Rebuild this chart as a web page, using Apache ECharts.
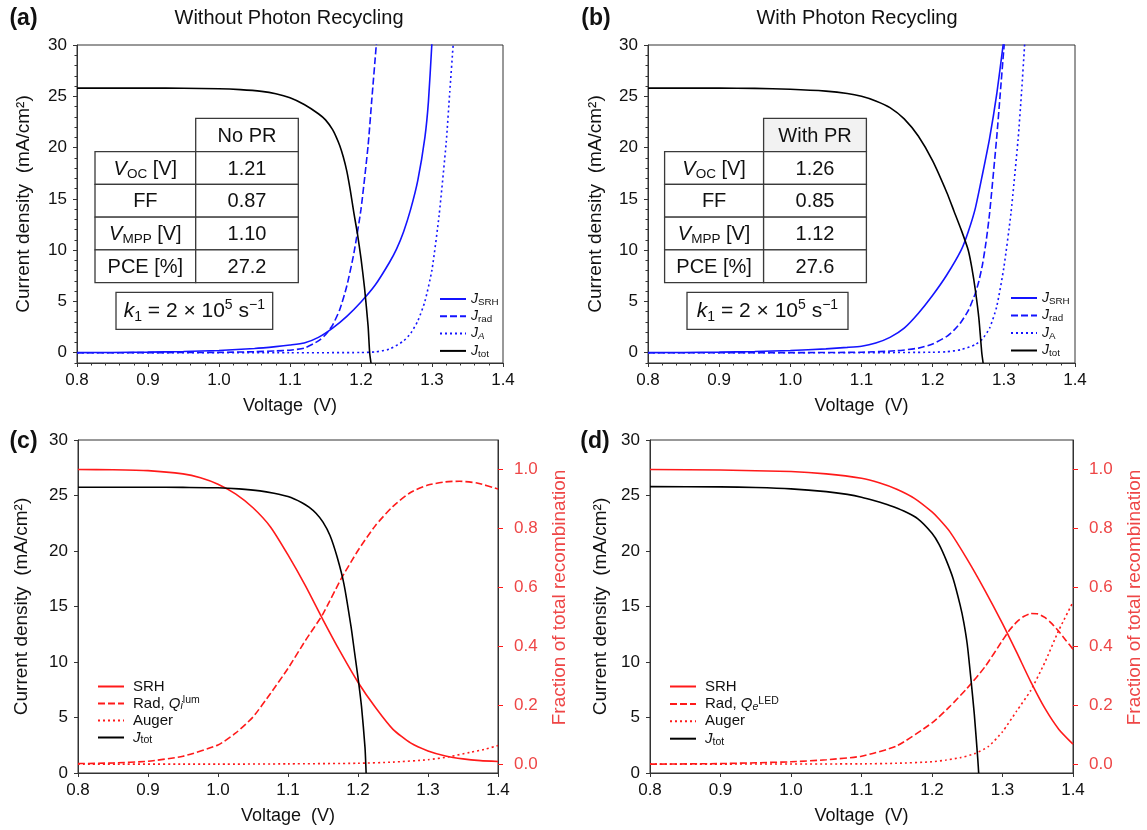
<!DOCTYPE html>
<html><head><meta charset="utf-8">
<script src="https://cdn.jsdelivr.net/npm/echarts@6/dist/echarts.min.js"></script>
<style>html,body{margin:0;padding:0;background:#fff}#c{width:1147px;height:830px}</style>
</head><body><div id="c"></div>
<script>
// ================= DATA =================
// Panel (a): Without photon recycling (current densities, mA/cm2)
const aTotV = [0.80,0.85,0.90,0.95,1.00,1.03,1.06,1.08,1.10,1.12,1.14,1.15,1.16,1.165,1.17,1.175,1.18,1.185,1.19,1.195,1.20,1.205,1.21,1.2122,1.2141];
const aTotJ = [25.8,25.8,25.8,25.78,25.74,25.65,25.48,25.25,24.85,24.2,23.3,22.7,21.75,21.05,20.2,19.1,17.7,15.8,13.6,11.6,9.2,6.3,2.6,0,-1];
const aSrhV = [0.80,0.85,0.90,0.95,1.00,1.05,1.08,1.10,1.12,1.14,1.16,1.18,1.20,1.22,1.24,1.25,1.26,1.27,1.28,1.29,1.295,1.2997,1.301];
const aSrhJ = [0.01,0.03,0.06,0.12,0.22,0.42,0.6,0.75,0.95,1.5,2.4,3.55,4.95,6.6,8.8,10.1,11.8,14.0,16.8,21.0,24.5,30.0,31.6];
const aRadV = [0.80,0.90,1.00,1.05,1.08,1.10,1.12,1.14,1.15,1.16,1.17,1.18,1.19,1.20,1.21,1.215,1.2215,1.223];
const aRadJ = [0.0,0.01,0.04,0.1,0.18,0.25,0.45,1.15,1.75,2.7,4.2,6.5,9.7,14.0,20.2,24.5,30.0,31.6];
const aAV = [0.80,1.10,1.20,1.22,1.24,1.26,1.27,1.28,1.29,1.30,1.31,1.32,1.325,1.33,1.332];
const aAJ = [0,0,0.02,0.08,0.35,1.15,1.9,3.1,5.0,8.1,13.4,20.5,25.4,30.2,32];

// Panel (b): With photon recycling
const bTotV = [0.80,0.90,0.95,1.00,1.05,1.08,1.10,1.12,1.14,1.16,1.18,1.20,1.22,1.23,1.24,1.25,1.255,1.26,1.265,1.269,1.2709];
const bTotJ = [25.8,25.8,25.77,25.68,25.5,25.28,25.0,24.55,23.9,22.8,21.1,18.7,15.6,13.8,12.0,10.0,8.3,6.1,3.3,0,-1];
const bSrhV = [0.80,0.85,0.90,0.95,1.00,1.05,1.08,1.10,1.12,1.14,1.16,1.18,1.20,1.22,1.24,1.25,1.26,1.27,1.28,1.29,1.2988,1.301];
const bSrhJ = [0.01,0.03,0.06,0.12,0.22,0.38,0.52,0.64,0.95,1.5,2.4,3.85,5.6,7.6,10.0,11.8,14.1,17.4,20.9,25.2,29.9,31.2];
const bRadV = [0.80,1.00,1.10,1.15,1.18,1.20,1.22,1.23,1.24,1.25,1.26,1.265,1.27,1.275,1.28,1.29,1.295,1.30,1.303];
const bRadJ = [0,0.01,0.05,0.2,0.45,0.85,1.6,2.2,3.0,4.1,5.8,7.0,8.6,10.8,13.6,21.0,25.3,29.6,32];
const bAV = [0.80,1.10,1.20,1.22,1.24,1.26,1.27,1.28,1.29,1.30,1.31,1.32,1.325,1.329,1.331];
const bAJ = [0,0,0.05,0.1,0.3,0.8,1.35,2.4,4.5,8.3,13.6,20.8,25.5,29.8,32];

// Panel (c): Jtot (left axis) and fraction of total recombination (right axis), no PR
const cTotV = [0.80,0.90,0.95,1.00,1.03,1.06,1.08,1.10,1.12,1.13,1.14,1.15,1.16,1.17,1.18,1.19,1.195,1.20,1.205,1.21,1.2116];
const cTotJ = [25.75,25.75,25.73,25.7,25.6,25.42,25.2,24.9,24.35,23.95,23.4,22.6,21.4,19.5,17.0,13.2,10.9,8.6,6.0,2.3,0];
const cSrhV = [0.80,0.85,0.90,0.95,0.975,1.00,1.025,1.05,1.075,1.10,1.125,1.15,1.175,1.20,1.225,1.25,1.275,1.30,1.325,1.35,1.375,1.40];
const cSrhF = [1.0,0.999,0.996,0.985,0.972,0.95,0.917,0.87,0.805,0.71,0.605,0.49,0.38,0.278,0.192,0.118,0.072,0.045,0.028,0.018,0.012,0.009];
const cRadV = [0.80,0.85,0.90,0.95,1.00,1.025,1.05,1.075,1.10,1.125,1.15,1.175,1.20,1.225,1.25,1.275,1.30,1.325,1.345,1.37,1.40];
const cRadF = [0.002,0.004,0.01,0.027,0.065,0.105,0.16,0.24,0.325,0.42,0.51,0.625,0.725,0.81,0.875,0.922,0.947,0.958,0.96,0.954,0.934];
const cAugV = [0.80,1.00,1.10,1.20,1.25,1.30,1.33,1.36,1.38,1.40];
const cAugF = [0,0,0.001,0.003,0.007,0.015,0.025,0.04,0.05,0.063];

// Panel (d): with PR
const dTotV = [0.80,0.90,0.95,1.00,1.05,1.08,1.10,1.12,1.14,1.16,1.18,1.20,1.21,1.22,1.23,1.24,1.245,1.25,1.255,1.26,1.265,1.2662];
const dTotJ = [25.8,25.78,25.72,25.6,25.35,25.1,24.85,24.5,24.1,23.6,22.9,21.6,20.6,19.2,17.5,15.1,13.6,11.6,8.6,5.3,1.2,0];
const dSrhV = [0.80,0.90,1.00,1.05,1.10,1.125,1.15,1.175,1.20,1.21,1.225,1.25,1.275,1.30,1.32,1.34,1.36,1.38,1.40];
const dSrhF = [1.0,0.998,0.993,0.985,0.97,0.955,0.933,0.902,0.856,0.832,0.79,0.695,0.59,0.477,0.38,0.28,0.19,0.118,0.068];
const dRadV = [0.80,0.90,1.00,1.05,1.10,1.15,1.20,1.225,1.25,1.275,1.30,1.31,1.32,1.33,1.34,1.35,1.36,1.37,1.38,1.39,1.40];
const dRadF = [0,0.002,0.008,0.015,0.027,0.062,0.14,0.195,0.258,0.33,0.42,0.455,0.482,0.501,0.511,0.51,0.498,0.477,0.45,0.42,0.39];
const dAugV = [0.80,1.10,1.15,1.20,1.22,1.24,1.26,1.28,1.30,1.32,1.34,1.36,1.38,1.40];
const dAugF = [0,0.001,0.003,0.008,0.014,0.022,0.035,0.06,0.11,0.18,0.25,0.345,0.455,0.55];

// Tick labels / table texts
const jTicks = [0,5,10,15,20,25,30];
const fracTicks = [0,0.2,0.4,0.6,0.8,1.0];
const tableRowLabels = ['{v|V}{s|OC}{n| [V]}','{n|FF}','{v|V}{s|MPP}{n| [V]}','{n|PCE [%]}'];
const tableA = {header:'No PR', values:['1.21','0.87','1.10','27.2']};
const tableB = {header:'With PR', values:['1.26','0.85','1.12','27.6']};

// ================= CHART =================
const FF = "'Liberation Sans', Arial, Helvetica, sans-serif";
const BLUE = '#1414ff', RED = '#ff1a1a', RLAB = '#ee4646', AX = '#333';
const zip = (xs, ys) => xs.map((x, i) => [x, ys[i]]);
const jMinor = [];
for (let v = -1; v <= 30; v++) if (v % 5 !== 0) jMinor.push(v);

const grids = [
  {left:77, top:45, width:426, height:318},
  {left:648, top:45, width:427, height:318},
  {left:78, top:440, width:420, height:333},
  {left:650, top:440, width:423, height:333}
].map(g => Object.assign(g, {show:true, borderColor:AX, borderWidth:1, backgroundColor:'transparent', containLabel:false}));

function xAx(gi, minor) {
  return {type:'value', gridIndex:gi, min:0.8, max:1.4, interval:0.1,
    axisLine:{show:true, onZero:false, lineStyle:{color:AX, width:1}},
    axisTick:{show:true, inside:false, length:4, lineStyle:{color:AX}},
    minorTick: minor ? {show:true, splitNumber:5, length:2.5, lineStyle:{color:AX}} : {show:false},
    splitLine:{show:false}, minorSplitLine:{show:false},
    axisLabel:{fontSize:17, color:'#111', fontFamily:FF, margin:9, formatter:v => v.toFixed(1)},
    name:'Voltage  (V)', nameLocation:'middle', nameGap:34,
    nameTextStyle:{fontSize:18, color:'#111', fontFamily:FF}};
}
function yMain(gi, min, gap) {
  return {type:'value', gridIndex:gi, min:min, max:30, position:'left',
    axisLine:{show:true, onZero:false, lineStyle:{color:AX, width:1}},
    axisTick:{show:true, length:4, lineStyle:{color:AX}, customValues:jTicks},
    axisLabel:{fontSize:17, color:'#111', fontFamily:FF, margin:10, customValues:jTicks},
    splitLine:{show:false},
    name:'Current density  (mA/cm²)', nameLocation:'middle', nameGap:gap, nameRotate:90,
    nameTextStyle:{fontSize:19, color:'#111', fontFamily:FF}};
}
function yMinor(gi) {
  return {type:'value', gridIndex:gi, min:-1, max:30, position:'left',
    axisLine:{show:false}, axisTick:{show:true, length:2.5, lineStyle:{color:AX}, customValues:jMinor},
    axisLabel:{show:false, customValues:jMinor}, splitLine:{show:false}};
}
function yFrac(gi) {
  return {type:'value', gridIndex:gi, min:-0.03, max:1.1, position:'right',
    axisLine:{show:true, onZero:false, lineStyle:{color:AX, width:1}},
    axisTick:{show:true, length:5, lineStyle:{color:RED}, customValues:fracTicks},
    axisLabel:{fontSize:17, color:RLAB, fontFamily:FF, margin:16, customValues:fracTicks, formatter:v => v.toFixed(1)},
    splitLine:{show:false},
    name:'Fraction of total recombination', nameLocation:'middle', nameGap:52, nameRotate:90,
    nameTextStyle:{fontSize:19, color:RLAB, fontFamily:FF, padding:[0,0,0,18]}};
}

function line(name, xs, ys, xi, yi, color, type) {
  return {type:'line', name:name, xAxisIndex:xi, yAxisIndex:yi, data:zip(xs, ys),
    symbol:'none', showSymbol:false, smooth:0.2, clip:true,
    lineStyle:{color:color, width:1.6, type:type}, itemStyle:{color:color}, z:3};
}
const DASH = [7,3], DOT = [2,3];

const series = [
  line('aSRH', aSrhV, aSrhJ, 0, 0, BLUE, 'solid'),
  line('aRad', aRadV, aRadJ, 0, 0, BLUE, DASH),
  line('aA', aAV, aAJ, 0, 0, BLUE, DOT),
  line('aTot', aTotV, aTotJ, 0, 0, '#000', 'solid'),
  line('bSRH', bSrhV, bSrhJ, 1, 2, BLUE, 'solid'),
  line('bRad', bRadV, bRadJ, 1, 2, BLUE, DASH),
  line('bA', bAV, bAJ, 1, 2, BLUE, DOT),
  line('bTot', bTotV, bTotJ, 1, 2, '#000', 'solid'),
  line('cSRH', cSrhV, cSrhF, 2, 5, RED, 'solid'),
  line('cRad', cRadV, cRadF, 2, 5, RED, DASH),
  line('cAug', cAugV, cAugF, 2, 5, RED, DOT),
  line('cTot', cTotV, cTotJ, 2, 4, '#000', 'solid'),
  line('dSRH', dSrhV, dSrhF, 3, 7, RED, 'solid'),
  line('dRad', dRadV, dRadF, 3, 7, RED, DASH),
  line('dAug', dAugV, dAugF, 3, 7, RED, DOT),
  line('dTot', dTotV, dTotJ, 3, 6, '#000', 'solid')
];

const legendLabels = {
  aSRH:'{j|J}{s|SRH}', aRad:'{j|J}{s|rad}', aA:'{j|J}{si|A}', aTot:'{j|J}{s|tot}',
  bSRH:'{j|J}{s|SRH}', bRad:'{j|J}{s|rad}', bA:'{j|J}{s|A}', bTot:'{j|J}{s|tot}',
  cSRH:'{n|SRH}', cRad:'{n|Rad, }{j|Q}{si|i}{p|lum}', cAug:'{n|Auger}', cTot:'{j|J}{s|tot}',
  dSRH:'{n|SRH}', dRad:'{n|Rad, }{j|Q}{si|e}{p|LED}', dAug:'{n|Auger}', dTot:'{j|J}{s|tot}'
};
function legend(names, left, top, fs, lh, gap, pad) {
  return {data:names, left:left, top:top, orient:'vertical', itemWidth:26, itemHeight:10, itemGap:gap,
    selectedMode:false, padding:0, formatter:n => legendLabels[n],
    itemStyle:{opacity:0, borderWidth:0},
    textStyle:{fontFamily:FF, color:'#111', fontSize:fs, lineHeight:lh, padding:[0,0,0,pad],
      rich:{
        n:{fontSize:fs, fontFamily:FF, color:'#111', lineHeight:lh, verticalAlign:'middle'},
        j:{fontSize:fs, fontFamily:FF, fontStyle:'italic', color:'#111', lineHeight:lh, verticalAlign:'middle'},
        s:{fontSize:fs*0.7, fontFamily:FF, color:'#111', lineHeight:lh, verticalAlign:'bottom'},
        si:{fontSize:fs*0.7, fontFamily:FF, fontStyle:'italic', color:'#111', lineHeight:lh, verticalAlign:'bottom'},
        p:{fontSize:fs*0.7, fontFamily:FF, color:'#111', lineHeight:lh, verticalAlign:'top'}
      }}};
}

// ---- annotation graphics (tables, boxes, titles) ----
const G = [];
function txt(text, x, y, opts) {
  G.push({type:'text', x:x, y:y, z:20, style:Object.assign({text:text, fill:'#111', fontFamily:FF, fontSize:20, align:'center', verticalAlign:'middle'}, opts || {})});
}
function rect(x, y, w, h, fill) {
  G.push({type:'rect', z:15, shape:{x:x, y:y, width:w, height:h}, style:{fill:fill, stroke:'#3a3a3a', lineWidth:1.3}});
}
const tRich = {
  v:{fontSize:20, fontFamily:FF, fontStyle:'italic', fill:'#111', lineHeight:24, verticalAlign:'middle'},
  s:{fontSize:13.5, fontFamily:FF, fill:'#111', lineHeight:24, verticalAlign:'bottom'},
  n:{fontSize:20, fontFamily:FF, fill:'#111', lineHeight:24, verticalAlign:'middle'}
};
function table(L, T, headFill) {
  rect(L.x1, L.y0, L.x2 - L.x1, L.y1 - L.y0, headFill);
  txt(T.header, (L.x1 + L.x2) / 2, (L.y0 + L.y1) / 2 + 1);
  const rh = (L.yb - L.y1) / 4;
  for (let i = 0; i < 4; i++) {
    const y = L.y1 + i * rh;
    rect(L.x0, y, L.x1 - L.x0, rh, '#fff');
    rect(L.x1, y, L.x2 - L.x1, rh, '#fff');
    txt(tableRowLabels[i], (L.x0 + L.x1) / 2, y + rh / 2 + 1, {rich:tRich});
    txt(T.values[i], (L.x1 + L.x2) / 2, y + rh / 2 + 1);
  }
}
table({x0:95, x1:195.7, x2:298.3, y0:118.3, y1:151.7, yb:282.7}, tableA, '#fff');
table({x0:664.6, x1:763.6, x2:866.4, y0:118.3, y1:151.7, yb:282.7}, tableB, '#f2f2f2');
const kRich = {
  k:{fontSize:21, fontFamily:FF, fontStyle:'italic', fill:'#111', lineHeight:26, verticalAlign:'middle'},
  s:{fontSize:14, fontFamily:FF, fill:'#111', lineHeight:26, verticalAlign:'bottom'},
  n:{fontSize:21, fontFamily:FF, fill:'#111', lineHeight:26, verticalAlign:'middle'},
  p:{fontSize:14, fontFamily:FF, fill:'#111', lineHeight:26, verticalAlign:'top'}
};
const kText = '{k|k}{s|1}{n| = 2 × 10}{p|5}{n| s}{p|−1}';
rect(116, 292.3, 156.7, 37, '#fff'); txt(kText, 194.3, 311.5, {rich:kRich});
rect(687, 292.3, 161, 37, '#fff'); txt(kText, 767.5, 311.5, {rich:kRich});
txt('(a)', 23.5, 19, {fontWeight:'bold', fontSize:23});
txt('Without Photon Recycling', 289, 18.5, {fontSize:20});
txt('(b)', 596, 19, {fontWeight:'bold', fontSize:23});
txt('With Photon Recycling', 857, 18.5, {fontSize:20});
txt('(c)', 23.5, 442, {fontWeight:'bold', fontSize:23});
txt('(d)', 595, 442, {fontWeight:'bold', fontSize:23});

const option = {
  animation:false,
  backgroundColor:'#fff',
  textStyle:{fontFamily:FF},
  grid:grids,
  xAxis:[xAx(0, true), xAx(1, true), xAx(2, false), xAx(3, false)],
  yAxis:[yMain(0, -1, 44), yMinor(0), yMain(1, -1, 43), yMinor(1),
         yMain(2, 0, 47), yFrac(2), yMain(3, 0, 40), yFrac(3)],
  legend:[
    legend(['aSRH','aRad','aA','aTot'], 439, 291, 14, 16, 1.3, 0),
    legend(['bSRH','bRad','bA','bTot'], 1010, 290, 14, 16, 1.5, 0),
    legend(['cSRH','cRad','cAug','cTot'], 97, 678, 15, 17, 0, 4),
    legend(['dSRH','dRad','dAug','dTot'], 669, 678, 15, 17, 0.4, 4)
  ],
  series:series,
  graphic:G
};
const chart = echarts.init(document.getElementById('c'), null, {renderer:'canvas'});
chart.setOption(option);
</script></body></html>
